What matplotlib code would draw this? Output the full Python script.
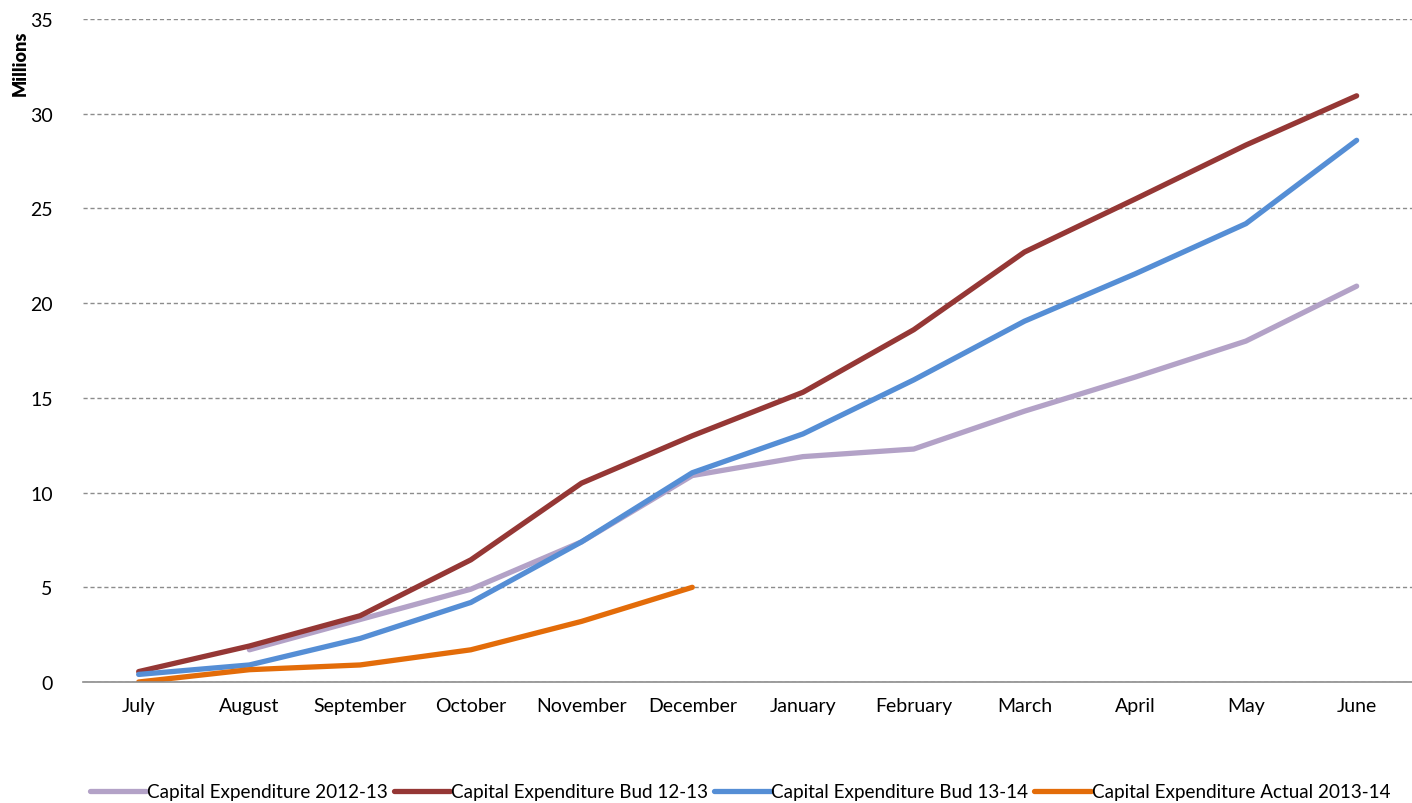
import numpy as np
import matplotlib.pyplot as plt

months = ["July", "August", "September", "October", "November", "December",
          "January", "February", "March", "April", "May", "June"]

capex_2012_13 = [np.nan, 1.7, 3.3, 4.9, 7.4, 10.9, 11.9, 12.3, 14.3, 16.1, 18.0, 20.9]
capex_bud_12_13 = [0.55, 1.9, 3.5, 6.45, 10.5, 13.0, 15.3, 18.6, 22.7, 25.5, 28.35, 30.95]
capex_bud_13_14 = [0.4, 0.9, 2.3, 4.2, 7.4, 11.05, 13.1, 15.95, 19.05, 21.55, 24.2, 28.6]
capex_actual_13_14 = [0.0, 0.65, 0.9, 1.7, 3.2, 5.0]

plt.rcParams['font.family'] = ['Lato', 'DejaVu Sans']

fig = plt.figure(figsize=(14.12, 8.04), dpi=100)
ax = fig.add_axes([0.059, 0.1505, 0.941, 0.8245])

x = np.arange(len(months))
lw = 3.8
style = dict(lw=lw, solid_capstyle="round", solid_joinstyle="round")
ax.plot(x, capex_2012_13, color="#B3A2C7", label="Capital Expenditure 2012-13", **style)
ax.plot(x, capex_bud_12_13, color="#953735", label="Capital Expenditure Bud 12-13", **style)
ax.plot(x, capex_bud_13_14, color="#558ED5", label="Capital Expenditure Bud 13-14", **style)
ax.plot(x[:len(capex_actual_13_14)], capex_actual_13_14, color="#E36C09",
        label="Capital Expenditure Actual 2013-14", **style)

ax.set_xlim(-0.5, 11.5)
ax.set_ylim(0, 35)
ax.set_yticks(range(0, 36, 5))
ax.set_xticks(x)
ax.set_xticklabels(months)
ax.tick_params(length=0, labelsize=14, colors="black")
ax.tick_params(axis="x", pad=11)
ax.tick_params(axis="y", pad=22)

ax.grid(axis="y", color="#8c8c8c", linestyle=(0, (3, 2)), lw=1)
ax.set_axisbelow(True)
for s in ["top", "right", "left"]:
    ax.spines[s].set_visible(False)
ax.spines["bottom"].set_color("#8c8c8c")
ax.spines["bottom"].set_linewidth(1.2)

fig.text(0.0145, 0.962, "Millions", rotation=90, fontsize=13, fontweight="heavy",
         ha="center", va="top")

fig.legend(loc="lower center", bbox_to_anchor=(0.524, -0.018), ncol=4, frameon=False,
           fontsize=13.6, handlelength=3.0, handletextpad=0.05, columnspacing=0.3)

fig.savefig("out.png", dpi=100)
